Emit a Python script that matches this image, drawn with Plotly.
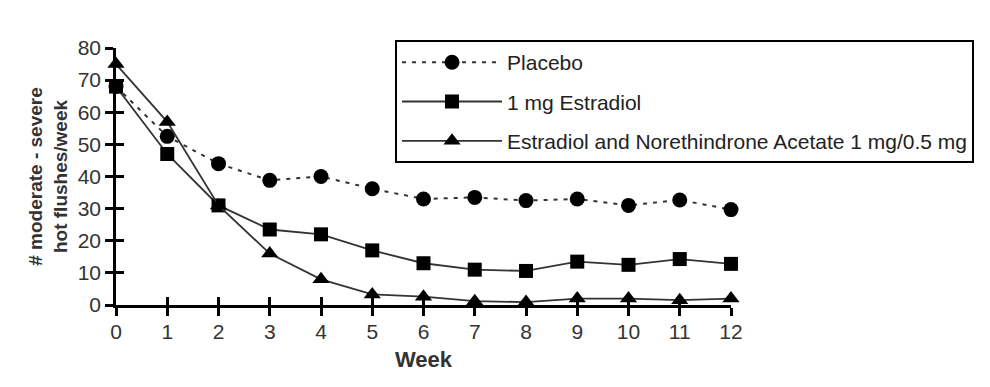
import plotly.graph_objects as go

weeks = list(range(13))
week_labels = [str(w) for w in weeks]
placebo = [68, 52.5, 44, 38.8, 40, 36.2, 33, 33.5, 32.5, 33, 31, 32.7, 29.7]
estradiol = [68, 47, 31, 23.5, 22, 17, 13, 11, 10.6, 13.5, 12.5, 14.3, 12.8]
combo = [75, 57, 31, 16, 8, 3.3, 2.6, 1.2, 0.9, 2, 2, 1.5, 2]
names = ["Placebo", "1 mg Estradiol",
         "Estradiol and Norethindrone Acetate 1 mg/0.5 mg"]
y_ticks = [0, 10, 20, 30, 40, 50, 60, 70, 80]

FONT = "Liberation Sans Narrow, Arial Narrow, Liberation Sans, Arial"
LINE = "#333333"

fig = go.Figure()
fig.add_trace(go.Scatter(
    x=weeks, y=placebo, name=names[0], mode="lines+markers", legendgroup="a",
    line=dict(color=LINE, width=2, dash="4px,6px"),
    marker=dict(symbol="circle", size=15, color="black"),
    cliponaxis=False))
fig.add_trace(go.Scatter(
    x=weeks, y=estradiol, name=names[1], mode="lines+markers", legendgroup="b",
    line=dict(color=LINE, width=1.8),
    marker=dict(symbol="square", size=14, color="black"),
    cliponaxis=False))
fig.add_trace(go.Scatter(
    x=weeks, y=combo, name=names[2], mode="lines+markers", legendgroup="c",
    line=dict(color=LINE, width=1.8),
    marker=dict(symbol="triangle-up", size=15, color="black"),
    cliponaxis=False))
# invisible trace to anchor the overlay axes (inner half of crossing ticks)
fig.add_trace(go.Scatter(
    x=weeks, y=placebo, xaxis="x2", yaxis="y2", mode="markers",
    marker=dict(opacity=0), showlegend=False, hoverinfo="skip"))

axis_common = dict(showgrid=False, zeroline=False, showline=True,
                   linecolor="black", linewidth=2.5, tickcolor="black",
                   tickwidth=2.5, ticklen=8)

fig.update_layout(
    width=982, height=379,
    margin=dict(l=108, r=259, t=40, b=82),
    paper_bgcolor="white", plot_bgcolor="white",
    font=dict(family=FONT, color="#333333"),
    xaxis=dict(range=[0, 12], tickmode="array", tickvals=weeks,
               ticktext=week_labels, ticks="outside", ticklabelstandoff=-2,
               tickfont=dict(size=21, family=FONT, color="#333333"),
               title=dict(text="<b>Week</b>", standoff=10,
                          font=dict(size=22, family=FONT, color="#333333")),
               **axis_common),
    yaxis=dict(range=[0, 80], tickmode="array", tickvals=y_ticks,
               ticks="outside",
               tickfont=dict(size=21, family=FONT, color="#333333"),
               title=dict(text="<b># moderate - severe<br>hot flushes/week</b>",
                          standoff=6,
                          font=dict(size=19, family=FONT, color="#333333")),
               **axis_common),
    xaxis2=dict(range=[0, 12], overlaying="x", tickmode="array",
                tickvals=weeks, ticks="inside", showticklabels=False,
                anchor="y2", **axis_common),
    yaxis2=dict(range=[0, 80], overlaying="y", tickmode="array",
                tickvals=y_ticks, ticks="inside", showticklabels=False,
                anchor="x2", **axis_common),
    legend=dict(x=0.4537, y=1.031, xanchor="left", yanchor="top",
                bordercolor="black", borderwidth=2, bgcolor="white",
                font=dict(size=21, family=FONT, color="#222222"),
                itemwidth=100, tracegroupgap=9),
    showlegend=True,
)

fig.write_html("out.html")
